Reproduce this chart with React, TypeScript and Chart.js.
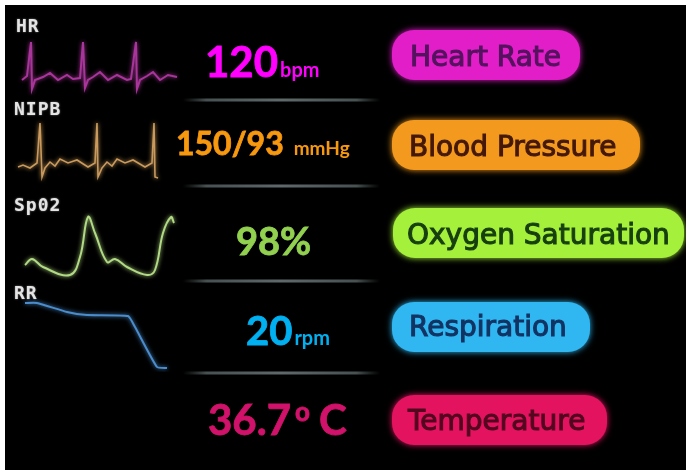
import { useEffect, useRef } from "react";
import { Chart, registerables } from "chart.js";

Chart.register(...registerables);

// ---- waveform samples (time units, amplitude units) ----
const hrTime = [12, 17, 21, 22, 25, 33, 40, 48, 57, 63, 70, 73, 75, 78, 83, 90, 98, 107, 117, 121, 126, 127, 130, 137, 143, 150, 158, 167];
const hrValues = [16, 20, 54, 7, 16, 19, 23, 16, 21, 17, 18, 54, 8, 16, 19, 24, 16, 21, 16, 17, 54, 7, 16, 20, 24, 16, 21, 19];

const nipbTime = [8, 13, 20, 27, 30, 32, 35, 40, 45, 50, 58, 67, 78, 85, 87, 88, 92, 97, 102, 107, 115, 123, 135, 142, 144, 145, 148];
const nipbValues = [17, 19, 16, 21, 61, 7, 16, 22, 18, 25, 21, 24, 17, 21, 61, 7, 16, 22, 18, 25, 21, 24, 17, 21, 61, 7, 6];

const spo2Time = [15, 22, 33, 60, 70, 78, 85, 97, 105, 117, 137, 145, 153, 161, 164];
const spo2Values = [19, 25, 17, 9, 27, 67, 51, 22, 25, 17, 9, 14, 51, 67, 61];

const rrTime = [15, 27, 57, 77, 118, 125, 147, 157];
const rrValues = [69, 69, 60, 57, 56, 45, 5, 4];

// ---- texts ----
const channelLabels = ["HR", "NIPB", "Sp02", "RR"];
const vitalValues = ["120", "150/93", "98%", "20", "36.7"];
const vitalUnits = ["bpm", "mmHg", "", "rpm", "C"];
const vitalNames = ["Heart Rate", "Blood Pressure", "Oxygen Saturation", "Respiration", "Temperature"];

const traceColors = ["#a8359a", "#c99a5c", "#b2da84", "#4b8dcc"];
const valueColors = ["#ff00ff", "#f7980f", "#92d050", "#00b0f0", "#d1126b"];
const pillColors = ["#e21ec9", "#f39a1e", "#a4f03a", "#30b6f0", "#e3135f"];
const pillTextColors = ["#55135f", "#45190a", "#173f10", "#123463", "#52081f"];

const pts = (t: number[], v: number[]) => t.map((x, i) => ({ x, y: v[i] }));

const overlayPlugin = {
  id: "monitorOverlay",
  beforeDraw(chart: any) {
    const ctx = chart.ctx;
    ctx.save();
    ctx.fillStyle = "#000";
    ctx.fillRect(5, 5, chart.width - 5, chart.height - 5);
    ctx.restore();
  },
  beforeDatasetDraw(chart: any, args: any) {
    const ctx = chart.ctx;
    ctx.save();
    ctx.shadowColor = args.meta.dataset.options.borderColor;
    ctx.shadowBlur = 4;
  },
  afterDatasetDraw(chart: any) {
    chart.ctx.restore();
  },
  afterDraw(chart: any) {
    const ctx: CanvasRenderingContext2D = chart.ctx;
    ctx.save();
    ctx.textBaseline = "alphabetic";

    // channel labels
    const labelPos = [
      [16, 32],
      [14, 115],
      [14, 211],
      [14, 299],
    ];
    ctx.font = "bold 18px 'DejaVu Sans Mono'";
    (ctx as any).letterSpacing = "1px";
    ctx.fillStyle = "#e4e4e4";
    ctx.shadowColor = "rgba(255,255,255,0.5)";
    ctx.shadowBlur = 2;
    channelLabels.forEach((t, i) => ctx.fillText(t, labelPos[i][0], labelPos[i][1]));
    (ctx as any).letterSpacing = "0px";
    ctx.shadowBlur = 0;

    // separators
    const sepY = [100, 186, 281, 373];
    sepY.forEach((y) => {
      const g = ctx.createLinearGradient(183, 0, 380, 0);
      g.addColorStop(0, "rgba(70,80,80,0)");
      g.addColorStop(0.12, "rgba(80,90,90,0.9)");
      g.addColorStop(0.5, "rgba(95,105,105,1)");
      g.addColorStop(0.88, "rgba(80,90,90,0.9)");
      g.addColorStop(1, "rgba(70,80,80,0)");
      ctx.strokeStyle = g;
      ctx.lineWidth = 3;
      ctx.beginPath();
      ctx.moveTo(183, y);
      ctx.lineTo(380, y);
      ctx.stroke();
    });

    // vital values
    const valueLayout = [
      { x: 205, y: 77, size: 42, unitSize: 20, gap: 2 },
      { x: 176, y: 155, size: 32, unitSize: 19, gap: 10 },
      { x: 236, y: 255, size: 38, unitSize: 20, gap: 2 },
      { x: 246, y: 345, size: 40, unitSize: 20, gap: 2 },
      { x: 208, y: 435, size: 42, unitSize: 42, gap: 28 },
    ];
    vitalValues.forEach((v, i) => {
      const L = valueLayout[i];
      ctx.fillStyle = valueColors[i];
      ctx.strokeStyle = valueColors[i];
      ctx.lineWidth = 0.8;
      ctx.font = `bold ${L.size}px Lato`;
      ctx.fillText(v, L.x, L.y);
      ctx.strokeText(v, L.x, L.y);
      const w = ctx.measureText(v).width;
      if (i === 4) {
        ctx.font = "bold 26px Lato";
        ctx.fillText("o", L.x + w + 4, L.y - 14);
        ctx.strokeText("o", L.x + w + 4, L.y - 14);
      }
      if (vitalUnits[i]) {
        ctx.font = `bold ${L.unitSize}px Lato`;
        ctx.fillText(vitalUnits[i], L.x + w + L.gap, L.y);
        if (i === 4) ctx.strokeText(vitalUnits[i], L.x + w + L.gap, L.y);
      }
    });

    // name pills
    const pills = [
      { x: 392, y: 30, w: 188, h: 50, tx: 410, ty: 66 },
      { x: 392, y: 120, w: 248, h: 50, tx: 409, ty: 156 },
      { x: 393, y: 208, w: 291, h: 50, tx: 407, ty: 244 },
      { x: 392, y: 302, w: 198, h: 50, tx: 409, ty: 336 },
      { x: 392, y: 395, w: 215, h: 50, tx: 408, ty: 430 },
    ];
    vitalNames.forEach((n, i) => {
      const p = pills[i];
      ctx.fillStyle = pillColors[i];
      ctx.shadowColor = pillColors[i];
      ctx.shadowBlur = 6;
      ctx.beginPath();
      (ctx as any).roundRect(p.x, p.y, p.w, p.h, 22);
      ctx.fill();
      ctx.shadowBlur = 0;
      ctx.fillStyle = pillTextColors[i];
      ctx.strokeStyle = pillTextColors[i];
      ctx.lineWidth = 1.1;
      ctx.font = "28px 'DejaVu Sans'";
      ctx.fillText(n, p.tx, p.ty);
      ctx.strokeText(n, p.tx, p.ty);
    });

    ctx.restore();
  },
};

export default function App() {
  const ref = useRef<HTMLCanvasElement>(null);
  useEffect(() => {
    const canvas = ref.current!;
    let alive = true;
    const band = (w: number, max: number, weight: number) => ({
      type: "linear",
      position: "left",
      stack: "waves",
      stackWeight: w,
      weight,
      min: 0,
      max,
      display: false,
    });
    const chart = new Chart(canvas, {
      type: "line",
      data: {
        datasets: [
          { label: "HR", data: pts(hrTime, hrValues), yAxisID: "yHR", borderColor: traceColors[0], borderWidth: 2, pointRadius: 0, tension: 0 },
          { label: "NIPB", data: pts(nipbTime, nipbValues), yAxisID: "yBP", borderColor: traceColors[1], borderWidth: 1.6, pointRadius: 0, tension: 0 },
          { label: "SpO2", data: pts(spo2Time, spo2Values), yAxisID: "ySP", borderColor: traceColors[2], borderWidth: 2, pointRadius: 0, tension: 0.4 },
          { label: "RR", data: pts(rrTime, rrValues), yAxisID: "yRR", borderColor: traceColors[3], borderWidth: 2, pointRadius: 0, tension: 0.15 },
        ],
      },
      options: {
        animation: false,
        responsive: false,
        maintainAspectRatio: false,
        events: [],
        layout: { padding: { left: 10, top: 36, right: 506, bottom: 98 } },
        plugins: { legend: { display: false }, tooltip: { enabled: false } },
        scales: {
          x: { type: "linear", min: 0, max: 170, display: false },
          yHR: band(60, 60, 4),
          yBP: band(88, 88, 3),
          ySP: band(100, 100, 2),
          yRR: band(88, 88, 1),
        } as any,
      },
      plugins: [overlayPlugin as any],
    } as any);
    Promise.all([
      document.fonts.load("bold 42px Lato"),
      document.fonts.load("28px 'DejaVu Sans'"),
      document.fonts.load("bold 18px 'DejaVu Sans Mono'"),
    ])
      .catch(() => null)
      .then(() => {
        if (alive) chart.draw();
      });
    return () => {
      alive = false;
      chart.destroy();
    };
  }, []);
  return (
    <div style={{ position: "fixed", left: 0, top: 0, width: 686, height: 470, background: "#fff" }}>
      <canvas ref={ref} width={686} height={470} style={{ display: "block", width: 686, height: 470 }} />
    </div>
  );
}
